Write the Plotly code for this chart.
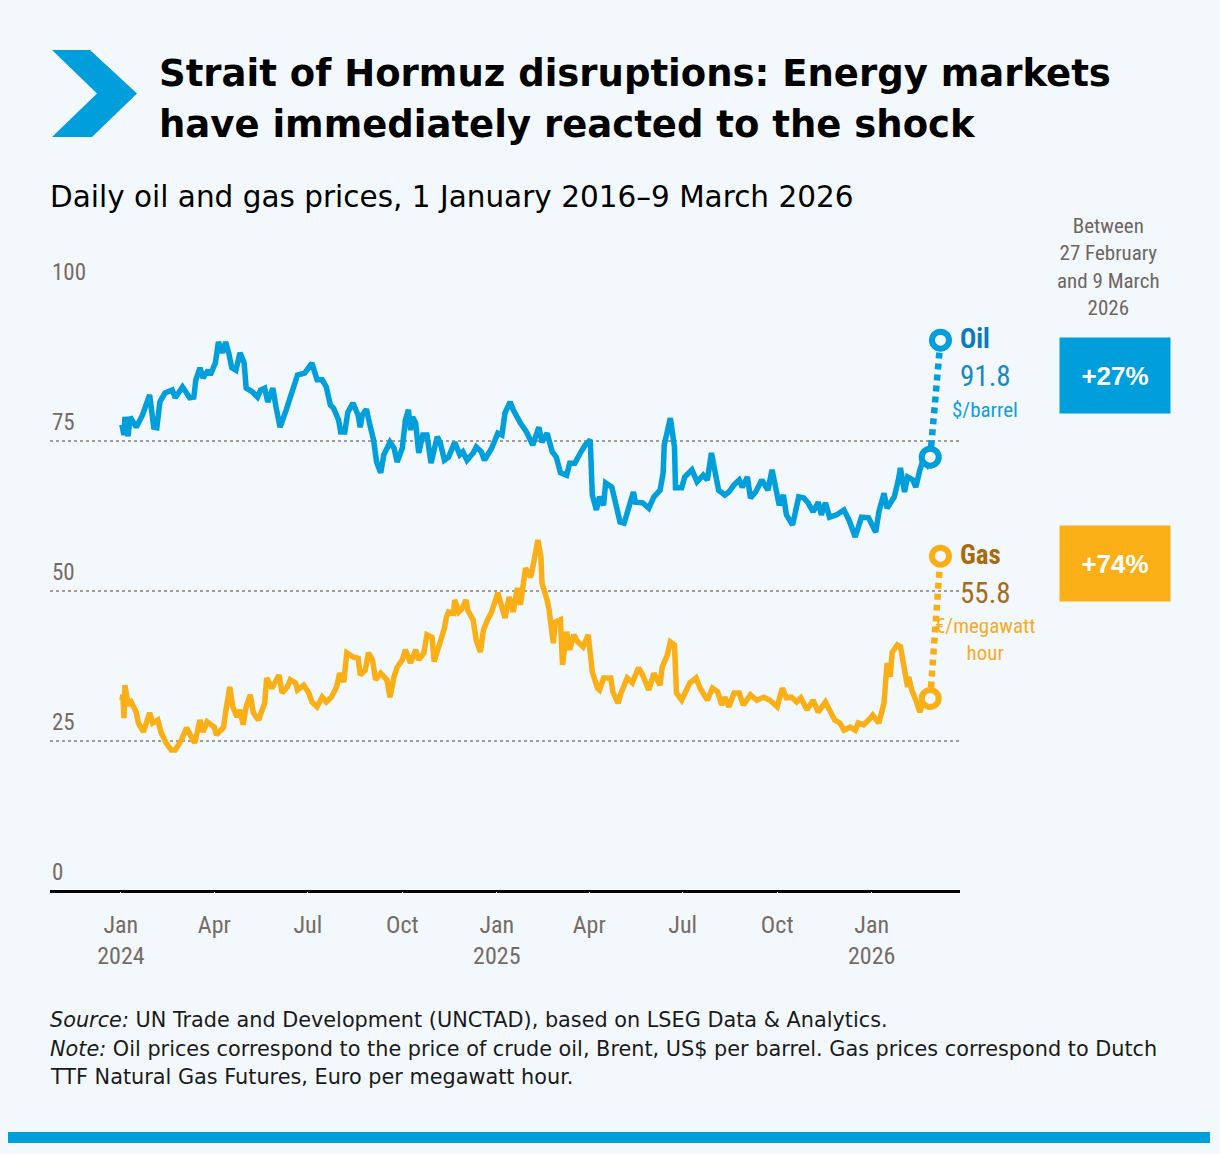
import plotly.graph_objects as go

# ---------------- DATA ----------------
OIL_DATES = [
    "2024-01-02", "2024-01-03", "2024-01-04", "2024-01-05", "2024-01-08", "2024-01-10",
    "2024-01-16", "2024-01-22", "2024-01-24", "2024-01-29", "2024-02-02", "2024-02-05",
    "2024-02-08", "2024-02-13", "2024-02-20", "2024-02-23", "2024-03-01", "2024-03-08",
    "2024-03-12", "2024-03-14", "2024-03-18", "2024-03-21", "2024-03-26", "2024-03-28",
    "2024-04-02", "2024-04-05", "2024-04-09", "2024-04-12", "2024-04-15", "2024-04-18",
    "2024-04-22", "2024-04-26", "2024-04-30", "2024-05-02", "2024-05-08", "2024-05-13",
    "2024-05-16", "2024-05-20", "2024-05-23", "2024-05-28", "2024-05-31", "2024-06-04",
    "2024-06-10", "2024-06-14", "2024-06-18", "2024-06-21", "2024-06-28", "2024-07-05",
    "2024-07-10", "2024-07-15", "2024-07-19", "2024-07-23", "2024-07-26", "2024-07-31",
    "2024-08-02", "2024-08-06", "2024-08-09", "2024-08-14", "2024-08-19", "2024-08-21",
    "2024-08-23", "2024-08-27", "2024-08-30", "2024-09-03", "2024-09-06", "2024-09-10",
    "2024-09-13", "2024-09-19", "2024-09-23", "2024-09-26", "2024-10-01", "2024-10-04",
    "2024-10-07", "2024-10-09", "2024-10-11", "2024-10-14", "2024-10-17", "2024-10-21",
    "2024-10-25", "2024-10-29", "2024-11-04", "2024-11-07", "2024-11-11", "2024-11-15",
    "2024-11-21", "2024-11-26", "2024-11-29", "2024-12-03", "2024-12-09", "2024-12-12",
    "2024-12-17", "2024-12-20", "2024-12-27", "2025-01-02", "2025-01-06", "2025-01-09",
    "2025-01-14", "2025-01-17", "2025-01-24", "2025-01-30", "2025-02-05", "2025-02-11",
    "2025-02-14", "2025-02-19", "2025-02-24", "2025-02-28", "2025-03-04", "2025-03-10",
    "2025-03-13", "2025-03-18", "2025-03-24", "2025-03-28", "2025-04-02", "2025-04-04",
    "2025-04-08", "2025-04-11", "2025-04-15", "2025-04-17", "2025-04-23", "2025-04-25",
    "2025-05-01", "2025-05-05", "2025-05-12", "2025-05-14", "2025-05-16", "2025-05-23",
    "2025-05-29", "2025-06-03", "2025-06-09", "2025-06-12", "2025-06-13", "2025-06-19",
    "2025-06-23", "2025-06-24", "2025-06-30", "2025-07-03", "2025-07-10", "2025-07-15",
    "2025-07-21", "2025-07-25", "2025-07-29", "2025-08-01", "2025-08-05", "2025-08-11",
    "2025-08-15", "2025-08-20", "2025-08-25", "2025-08-28", "2025-09-02", "2025-09-05",
    "2025-09-10", "2025-09-16", "2025-09-22", "2025-09-26", "2025-10-01", "2025-10-03",
    "2025-10-07", "2025-10-10", "2025-10-16", "2025-10-22", "2025-10-27", "2025-10-31",
    "2025-11-05", "2025-11-10", "2025-11-13", "2025-11-17", "2025-11-21", "2025-11-28",
    "2025-12-05", "2025-12-10", "2025-12-16", "2025-12-22", "2025-12-29", "2026-01-02",
    "2026-01-05", "2026-01-08", "2026-01-13", "2026-01-16", "2026-01-23", "2026-01-27",
    "2026-01-29", "2026-02-02", "2026-02-05", "2026-02-10", "2026-02-13", "2026-02-17",
    "2026-02-20", "2026-02-24", "2026-02-27",
]
OIL_PRICES = [
    77.7, 76.5, 76.0, 79.0, 75.8, 79.0,
    77.3, 79.3, 80.5, 82.7, 77.3, 77.2,
    81.5, 83.0, 83.5, 82.2, 84.0, 82.2,
    82.3, 85.2, 87.2, 85.5, 86.8, 86.0,
    88.0, 91.5, 89.7, 91.5, 89.7, 87.2,
    86.8, 89.7, 88.0, 83.8, 83.2, 82.3,
    83.5, 83.8, 81.5, 83.8, 80.7, 77.3,
    80.2, 82.3, 84.7, 86.0, 86.3, 88.0,
    85.2, 85.2, 84.0, 81.0, 80.5, 78.5,
    76.5, 76.5, 79.8, 81.3, 79.3, 77.3,
    79.3, 80.3, 78.0, 75.2, 71.5, 69.7,
    72.7, 74.8, 73.8, 71.5, 73.8, 78.5,
    80.2, 76.8, 79.0, 78.0, 73.0, 76.0,
    76.0, 71.3, 75.7, 74.7, 71.8, 72.3,
    74.8, 72.7, 73.2, 71.8, 73.0, 74.0,
    73.2, 71.8, 73.8, 76.3, 76.0, 79.7,
    81.5, 80.2, 78.0, 76.5, 74.3, 77.3,
    74.8, 76.3, 73.2, 72.3, 69.7, 69.3,
    71.3, 71.3, 73.2, 74.3, 75.2, 66.0,
    63.5, 65.7, 64.3, 68.0, 67.3, 65.7,
    61.5, 61.3, 66.0, 66.5, 64.8, 64.7,
    63.8, 65.7, 66.8, 69.7, 74.3, 78.8,
    74.0, 67.2, 67.2, 69.0, 70.2, 68.2,
    69.3, 68.5, 73.0, 69.7, 66.8, 66.0,
    66.5, 67.7, 68.5, 67.3, 69.0, 65.5,
    66.5, 68.5, 66.8, 70.2, 66.3, 64.3,
    66.0, 62.7, 61.0, 65.7, 65.5, 64.7,
    63.2, 64.8, 62.7, 64.7, 62.3, 62.7,
    63.5, 61.8, 59.0, 62.3, 62.2, 61.0,
    59.8, 63.2, 66.3, 63.8, 65.7, 68.5,
    70.5, 66.5, 69.0, 68.5, 67.3, 70.2,
    71.8, 71.0, 72.3,
]

GAS_DATES = [
    "2024-01-02", "2024-01-03", "2024-01-04", "2024-01-05", "2024-01-08", "2024-01-11",
    "2024-01-16", "2024-01-18", "2024-01-23", "2024-01-26", "2024-01-29", "2024-02-01",
    "2024-02-06", "2024-02-09", "2024-02-14", "2024-02-19", "2024-02-23", "2024-02-29",
    "2024-03-05", "2024-03-11", "2024-03-13", "2024-03-18", "2024-03-21", "2024-03-25",
    "2024-04-01", "2024-04-03", "2024-04-10", "2024-04-12", "2024-04-16", "2024-04-19",
    "2024-04-23", "2024-04-26", "2024-04-29", "2024-05-02", "2024-05-06", "2024-05-09",
    "2024-05-14", "2024-05-20", "2024-05-22", "2024-05-27", "2024-06-03", "2024-06-06",
    "2024-06-11", "2024-06-14", "2024-06-19", "2024-06-21", "2024-06-27", "2024-07-02",
    "2024-07-05", "2024-07-10", "2024-07-15", "2024-07-19", "2024-07-24", "2024-07-29",
    "2024-08-01", "2024-08-05", "2024-08-08", "2024-08-14", "2024-08-19", "2024-08-21",
    "2024-08-26", "2024-08-29", "2024-09-02", "2024-09-05", "2024-09-10", "2024-09-16",
    "2024-09-19", "2024-09-23", "2024-09-26", "2024-10-01", "2024-10-04", "2024-10-09",
    "2024-10-14", "2024-10-17", "2024-10-22", "2024-10-25", "2024-10-30", "2024-11-01",
    "2024-11-05", "2024-11-11", "2024-11-13", "2024-11-15", "2024-11-20", "2024-11-21",
    "2024-11-25", "2024-11-28", "2024-12-02", "2024-12-04", "2024-12-09", "2024-12-12",
    "2024-12-16", "2024-12-19", "2024-12-23", "2024-12-27", "2025-01-02", "2025-01-06",
    "2025-01-09", "2025-01-13", "2025-01-17", "2025-01-21", "2025-01-24", "2025-01-29",
    "2025-02-03", "2025-02-06", "2025-02-10", "2025-02-13", "2025-02-14", "2025-02-19",
    "2025-02-21", "2025-02-25", "2025-02-27", "2025-03-04", "2025-03-06", "2025-03-10",
    "2025-03-13", "2025-03-17", "2025-03-21", "2025-03-26", "2025-03-31", "2025-04-04",
    "2025-04-09", "2025-04-11", "2025-04-15", "2025-04-22", "2025-04-24", "2025-04-29",
    "2025-05-02", "2025-05-08", "2025-05-13", "2025-05-19", "2025-05-23", "2025-05-29",
    "2025-06-03", "2025-06-09", "2025-06-11", "2025-06-16", "2025-06-19", "2025-06-23",
    "2025-06-25", "2025-06-30", "2025-07-04", "2025-07-08", "2025-07-14", "2025-07-18",
    "2025-07-25", "2025-07-30", "2025-08-04", "2025-08-08", "2025-08-11", "2025-08-15",
    "2025-08-20", "2025-08-25", "2025-08-29", "2025-09-05", "2025-09-11", "2025-09-18",
    "2025-09-24", "2025-10-01", "2025-10-06", "2025-10-10", "2025-10-15", "2025-10-20",
    "2025-10-24", "2025-10-30", "2025-11-05", "2025-11-10", "2025-11-17", "2025-11-21",
    "2025-11-26", "2025-12-01", "2025-12-05", "2025-12-11", "2025-12-16", "2025-12-19",
    "2025-12-24", "2025-12-29", "2026-01-02", "2026-01-08", "2026-01-13", "2026-01-16",
    "2026-01-19", "2026-01-21", "2026-01-26", "2026-01-29", "2026-02-02", "2026-02-05",
    "2026-02-06", "2026-02-09", "2026-02-13", "2026-02-17", "2026-02-20", "2026-02-27",
]
GAS_PRICES = [
    31.8, 32.7, 28.8, 34.3, 31.0, 31.5,
    29.8, 28.0, 26.5, 28.2, 29.7, 28.0,
    28.5, 26.5, 24.7, 23.5, 23.5, 25.2,
    27.2, 25.2, 24.7, 28.5, 26.5, 28.2,
    27.3, 26.0, 27.3, 29.8, 34.0, 30.7,
    29.0, 30.2, 27.7, 30.7, 32.7, 29.7,
    28.5, 31.3, 35.5, 33.8, 36.0, 33.0,
    34.0, 35.2, 34.7, 33.5, 34.3, 33.0,
    31.5, 30.7, 32.3, 31.5, 32.3, 34.0,
    36.3, 34.8, 39.7, 39.0, 38.8, 36.0,
    36.8, 39.7, 38.5, 35.2, 36.3, 35.2,
    32.3, 35.7, 37.3, 38.5, 40.2, 38.0,
    40.2, 38.5, 39.7, 42.7, 42.3, 38.2,
    40.2, 43.8, 45.7, 46.5, 46.3, 48.5,
    46.5, 47.0, 48.5, 46.7, 45.2, 41.8,
    39.8, 43.5, 45.2, 46.5, 49.7, 47.7,
    45.5, 49.0, 46.5, 50.5, 47.7, 53.8,
    52.3, 54.8, 58.5, 55.7, 51.3, 48.5,
    46.8, 41.3, 44.8, 45.2, 37.7, 43.2,
    40.2, 42.7, 41.5, 40.7, 42.7, 36.5,
    33.8, 33.5, 35.5, 35.5, 33.2, 31.3,
    33.0, 35.5, 34.7, 37.2, 36.0, 33.5,
    36.3, 34.3, 37.3, 39.3, 41.5, 41.0,
    33.0, 31.8, 33.2, 34.7, 35.5, 33.8,
    31.8, 33.8, 33.2, 31.0, 32.3, 30.7,
    33.0, 33.0, 31.0, 32.7, 31.8, 32.3,
    31.8, 30.7, 33.8, 32.2, 32.3, 31.5,
    32.2, 30.2, 31.8, 29.8, 31.5, 30.2,
    28.5, 28.0, 26.8, 27.3, 26.8, 28.0,
    27.7, 28.5, 29.3, 28.0, 31.3, 38.0,
    35.7, 39.8, 41.0, 40.7, 37.3, 34.0,
    35.7, 33.5, 31.8, 29.8, 31.8, 32.1,
]

# shock window: 27 February -> 9 March 2026
SHOCK_DATES = ["2026-02-27", "2026-03-09"]
OIL_SHOCK = [72.3, 91.8]
GAS_SHOCK = [32.1, 55.8]
OIL_CHANGE = "+27%"
GAS_CHANGE = "+74%"

Y_TICKS = [0, 25, 50, 75, 100]
X_TICK_DATES = ["2024-01-01", "2024-04-01", "2024-07-01", "2024-10-01",
                "2025-01-01", "2025-04-01", "2025-07-01", "2025-10-01", "2026-01-01"]
X_TICK_TEXT = ["Jan<br>2024", "Apr", "Jul", "Oct",
               "Jan<br>2025", "Apr", "Jul", "Oct", "Jan<br>2026"]

TITLE_1 = "Strait of Hormuz disruptions: Energy markets"
TITLE_2 = "have immediately reacted to the shock"
SUBTITLE = "Daily oil and gas prices, 1 January 2016–9 March 2026"
PERIOD_NOTE = "Between<br>27 February<br>and 9 March<br>2026"
SOURCE = "<i>Source:</i> UN Trade and Development (UNCTAD), based on LSEG Data &amp; Analytics."
NOTE_1 = ("<i>Note:</i> Oil prices correspond to the price of crude oil, Brent, US$ per barrel. "
          "Gas prices correspond to Dutch")
NOTE_2 = "TTF Natural Gas Futures, Euro per megawatt hour."

# ---------------- STYLE ----------------
BG = "#F3F8FC"
BLUE = "#009EDB"
ORANGE = "#FBAF17"
GREY = "#756B65"
COND = "Liberation Sans Narrow, Roboto Condensed, DejaVu Sans Condensed, Roboto, sans-serif"
WIDE = "DejaVu Sans, Verdana, sans-serif"
SANS = "Liberation Sans, Arial, Helvetica, sans-serif"

W, H = 1220, 1154
PL, PR, PT, PB = 50, 960, 291, 891  # plot area in pixels


def px(x):
    return (x - PL) / (PR - PL)


def py(y):
    return (PB - y) / (PB - PT)


fig = go.Figure()

fig.add_trace(go.Scatter(x=GAS_DATES, y=GAS_PRICES, mode="lines",
                         line=dict(color=ORANGE, width=5.5),
                         hoverinfo="skip", showlegend=False))
fig.add_trace(go.Scatter(x=OIL_DATES, y=OIL_PRICES, mode="lines",
                         line=dict(color=BLUE, width=5.5),
                         hoverinfo="skip", showlegend=False))

for vals, col in ((OIL_SHOCK, BLUE), (GAS_SHOCK, ORANGE)):
    fig.add_trace(go.Scatter(x=SHOCK_DATES, y=vals, mode="lines",
                             line=dict(color=col, width=6.5, dash="6px,5px"),
                             hoverinfo="skip", showlegend=False))
    fig.add_trace(go.Scatter(x=SHOCK_DATES, y=vals, mode="markers",
                             marker=dict(size=17, color=BG, line=dict(color=col, width=6)),
                             hoverinfo="skip", showlegend=False))

# Labels at the end of series
end_date = SHOCK_DATES[1]
ann = []
ann.append(dict(x=end_date, y=OIL_SHOCK[1], text="<b>Oil</b>", xanchor="left", yanchor="middle",
                xshift=18, yshift=1, showarrow=False,
                font=dict(family=COND, size=27, color="#0B79BD")))
ann.append(dict(x=end_date, y=OIL_SHOCK[1], text=f"{OIL_SHOCK[1]:.1f}", xanchor="left", yanchor="middle",
                xshift=18, yshift=-36, showarrow=False,
                font=dict(family=COND, size=29, color="#1689C6")))
ann.append(dict(x=end_date, y=OIL_SHOCK[1], text="$/barrel", xanchor="left", yanchor="middle",
                xshift=10, yshift=-70, showarrow=False,
                font=dict(family=COND, size=21, color="#0FA0DC")))
ann.append(dict(x=end_date, y=GAS_SHOCK[1], text="<b>Gas</b>", xanchor="left", yanchor="middle",
                xshift=18, yshift=1, showarrow=False,
                font=dict(family=COND, size=27, color="#A86B0C")))
ann.append(dict(x=end_date, y=GAS_SHOCK[1], text=f"{GAS_SHOCK[1]:.1f}", xanchor="left", yanchor="middle",
                xshift=18, yshift=-37, showarrow=False,
                font=dict(family=COND, size=29, color="#A46D1A")))
ann.append(dict(x=end_date, y=GAS_SHOCK[1], text="€/megawatt<br>hour", xanchor="center", yanchor="top",
                xshift=45, yshift=-56, showarrow=False, align="center",
                font=dict(family=COND, size=21, color="#F6AC1F")))

# y tick labels above gridlines
for t in Y_TICKS:
    ann.append(dict(x=0, xref="paper", y=t, text=str(t), xanchor="left", yanchor="bottom",
                    yshift=3, showarrow=False, font=dict(family=COND, size=23, color=GREY)))

# Title, subtitle, notes
ann.append(dict(x=px(157), y=py(73), xref="paper", yref="paper", text=f"<b>{TITLE_1}</b>",
                xanchor="left", yanchor="middle", showarrow=False,
                font=dict(family=WIDE, size=37, color="#000000")))
ann.append(dict(x=px(157), y=py(124), xref="paper", yref="paper", text=f"<b>{TITLE_2}</b>",
                xanchor="left", yanchor="middle", showarrow=False,
                font=dict(family=WIDE, size=37, color="#000000")))
ann.append(dict(x=px(48), y=py(197), xref="paper", yref="paper", text=SUBTITLE,
                xanchor="left", yanchor="middle", showarrow=False,
                font=dict(family=WIDE, size=29.5, color="#000000")))
ann.append(dict(x=px(1108), y=py(212), xref="paper", yref="paper", text=PERIOD_NOTE,
                xanchor="center", yanchor="top", showarrow=False, align="center",
                font=dict(family=COND, size=21, color="#6E6661")))
for txt, yy in ((SOURCE, 1020), (NOTE_1, 1049), (NOTE_2, 1077)):
    ann.append(dict(x=px(48), y=py(yy), xref="paper", yref="paper", text=txt,
                    xanchor="left", yanchor="middle", showarrow=False,
                    font=dict(family=WIDE, size=20.8, color="#1A1A1A")))

# percentage boxes
for txt, col, yc in ((OIL_CHANGE, BLUE, 375.5), (GAS_CHANGE, ORANGE, 563.5)):
    ann.append(dict(x=px(1115), y=py(yc), xref="paper", yref="paper", text=f"<b>{txt}</b>",
                    xanchor="center", yanchor="middle", showarrow=False,
                    width=110, height=75, bgcolor=col, borderpad=0,
                    font=dict(family=SANS, size=26, color="#FFFFFF")))

shapes = []
# chevron
chev = [(52, 50), (90, 50), (137, 93.5), (92, 137), (52, 137), (97, 93.5)]
path = "M " + " L ".join(f"{px(a):.5f},{py(b):.5f}" for a, b in chev) + " Z"
shapes.append(dict(type="path", path=path, xref="paper", yref="paper",
                   fillcolor=BLUE, line=dict(width=0), layer="above"))
# bottom bar
shapes.append(dict(type="rect", xref="paper", yref="paper", x0=px(8), x1=px(1210),
                   y0=py(1132), y1=py(1143), fillcolor=BLUE, line=dict(width=0)))

fig.update_layout(
    width=W, height=H,
    margin=dict(l=PL, r=W - PR, t=PT, b=H - PB, pad=0),
    paper_bgcolor=BG, plot_bgcolor=BG,
    showlegend=False,
    annotations=ann,
    shapes=shapes,
    xaxis=dict(range=["2023-10-24", "2026-03-28"], tickvals=X_TICK_DATES, ticktext=X_TICK_TEXT,
               showgrid=False, zeroline=False, showline=False,
               ticks="outside", ticklen=12, tickcolor=BG,
               tickfont=dict(family=COND, size=24, color=GREY)),
    yaxis=dict(range=[0, 100], tickvals=Y_TICKS, showticklabels=False,
               showgrid=True, gridcolor="#A39C97", gridwidth=2, griddash="dot",
               zeroline=True, zerolinecolor="#000000", zerolinewidth=2.5,
               showline=False, fixedrange=True),
)

fig.write_html(
    "out.html",
    config={"displayModeBar": False},
    post_script=f"document.body.style.margin='0';document.body.style.background='{BG}';"
                "document.body.style.overflow='hidden';",
)
